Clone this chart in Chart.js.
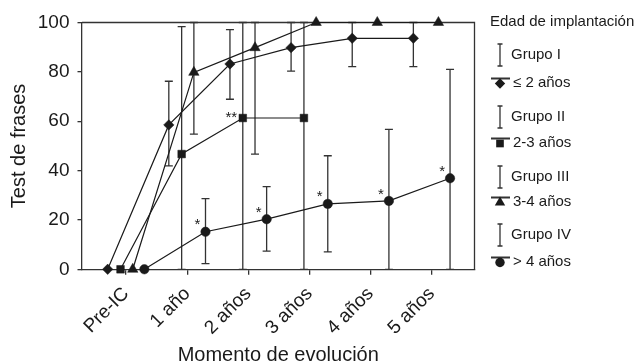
<!DOCTYPE html>
<html><head><meta charset="utf-8">
<script src="https://cdn.jsdelivr.net/npm/chart.js@4/dist/chart.umd.min.js"></script>
<style>html,body{margin:0;padding:0;background:#fff}#wrap{width:638px;height:363px;position:relative}</style>
</head><body><div id="wrap"><canvas id="c" width="638" height="363"></canvas></div>
<script>
const categories = ['Pre-IC', '1 año', '2 años', '3 años', '4 años', '5 años'];
const yTicks = [0, 20, 40, 60, 80, 100];
const groupNames = ['Grupo I', 'Grupo II', 'Grupo III', 'Grupo IV'];
const ageLabels = ['≤ 2 años', '2-3 años', '3-4 años', '> 4 años'];
const legendTitle = 'Edad de implantación';
const xTitle = 'Momento de evolución';
const yTitle = 'Test de frases';

const grupoI = [0, 58.5, 83.2, 89.8, 93.6, 93.6];
const grupoI_low = [null, 41.9, 68.9, 80.3, 82.1, 82.1];
const grupoI_high = [null, 76.2, 97.1, 100, 100, 100];

const grupoII = [0, 46.7, 61.3, 61.3];
const grupoII_low = [null, 0, 0, 0];
const grupoII_high = [null, 98.3, 100, 100];

const grupoIII = [0, 79.8, 89.8, 100, 100, 100];
const grupoIII_low = [null, 54.8, 46.7, null, null, null];
const grupoIII_high = [null, 100, 100, null, null, null];

const grupoIV = [0, 15.2, 20.3, 26.5, 27.7, 36.9];
const grupoIV_low = [null, 2.3, 7.4, 7.1, 0, 0];
const grupoIV_high = [null, 28.6, 33.5, 46, 56.7, 81];

const grupoII_marks = ['', '', '**', ''];
const grupoIV_marks = ['', '*', '*', '*', '*', '*'];

const FONT = '"Liberation Sans", Arial, Helvetica, sans-serif';
const INK = '#1a1a1a';
const LINE = '#333';

const series = [
  {values: grupoI, low: grupoI_low, high: grupoI_high, marks: null, offset: -0.3, style: 'rectRot', r: 5.2, markDx: 0, markDy: 0},
  {values: grupoII, low: grupoII_low, high: grupoII_high, marks: grupoII_marks, offset: -0.09, style: 'rect', r: 5.4, markDx: -11.5, markDy: 3.6},
  {values: grupoIII, low: grupoIII_low, high: grupoIII_high, marks: null, offset: 0.11, style: 'triangle', r: 6, markDx: 0, markDy: 0},
  {values: grupoIV, low: grupoIV_low, high: grupoIV_high, marks: grupoIV_marks, offset: 0.3, style: 'circle', r: 4.7, markDx: -8, markDy: -2.4}
];

function drawMarker(ctx, style, r, x, y) {
  ctx.beginPath();
  if (style === 'circle') {
    ctx.arc(x, y, r, 0, Math.PI * 2);
  } else if (style === 'rect') {
    const s = r * Math.SQRT1_2;
    ctx.rect(x - s, y - s, 2 * s, 2 * s);
  } else if (style === 'rectRot') {
    ctx.moveTo(x, y - r); ctx.lineTo(x + r, y); ctx.lineTo(x, y + r); ctx.lineTo(x - r, y); ctx.closePath();
  } else if (style === 'triangle') {
    const h = r * Math.sqrt(3) / 2;
    ctx.moveTo(x, y - r); ctx.lineTo(x + h, y + r / 2); ctx.lineTo(x - h, y + r / 2); ctx.closePath();
  }
  ctx.fill();
}

const errPlugin = {
  id: 'errbars',
  beforeDatasetsDraw(chart) {
    const {ctx, chartArea: a, scales: {x, y}} = chart;
    ctx.save();
    ctx.strokeStyle = LINE; ctx.lineWidth = 1.3;
    ctx.beginPath();
    ctx.moveTo(a.left, a.top); ctx.lineTo(a.right, a.top); ctx.lineTo(a.right, a.bottom);
    ctx.stroke();
    series.forEach(s => {
      s.low.forEach((lo, i) => {
        const hi = s.high[i];
        if (lo == null || hi == null) return;
        const px = x.getPixelForValue(i + s.offset);
        const pa = y.getPixelForValue(lo), pb = y.getPixelForValue(hi);
        ctx.beginPath();
        ctx.moveTo(px, pa); ctx.lineTo(px, pb);
        ctx.moveTo(px - 4, pa); ctx.lineTo(px + 4, pa);
        ctx.moveTo(px - 4, pb); ctx.lineTo(px + 4, pb);
        ctx.stroke();
      });
    });
    ctx.restore();
  },
  afterDraw(chart) {
    const {ctx, scales: {x, y}} = chart;
    ctx.save();
    ctx.fillStyle = INK;
    ctx.font = '15px ' + FONT;
    ctx.textAlign = 'center';
    ctx.textBaseline = 'alphabetic';
    series.forEach(s => {
      if (!s.marks) return;
      s.marks.forEach((m, i) => {
        if (!m) return;
        const px = x.getPixelForValue(i + s.offset);
        const py = y.getPixelForValue(s.values[i]);
        ctx.fillText(m, px + s.markDx, py + s.markDy);
      });
    });
    ctx.textAlign = 'left';
    ctx.textBaseline = 'middle';
    ctx.font = '15px ' + FONT;
    ctx.fillText(legendTitle, 490, 22);
    const gY = [55, 117, 177, 235];
    const aY = [83, 143, 202, 262];
    ctx.strokeStyle = LINE; ctx.lineWidth = 1.3;
    series.forEach((s, k) => {
      const gy = gY[k], ay = aY[k];
      ctx.beginPath();
      ctx.moveTo(500, gy - 11); ctx.lineTo(500, gy + 11);
      ctx.moveTo(497.5, gy - 11); ctx.lineTo(502.5, gy - 11);
      ctx.moveTo(497.5, gy + 11); ctx.lineTo(502.5, gy + 11);
      ctx.stroke();
      ctx.fillText(groupNames[k], 511, gy);
      ctx.save();
      ctx.lineWidth = 2;
      ctx.beginPath(); ctx.moveTo(491, ay - 4.5); ctx.lineTo(510, ay - 4.5); ctx.stroke();
      ctx.restore();
      drawMarker(ctx, s.style, s.r, 500, ay + 0.5);
      ctx.fillText(ageLabels[k], 513, ay);
    });
    ctx.restore();
  }
};

const datasets = series.map((s, k) => ({
  label: groupNames[k] + ' ' + ageLabels[k],
  data: s.values.map((v, i) => ({x: i + s.offset, y: v})),
  showLine: true,
  borderColor: INK,
  backgroundColor: INK,
  borderWidth: 1.2,
  pointStyle: s.style,
  pointRadius: s.r,
  pointBorderWidth: 0.5,
  pointHoverRadius: s.r,
  clip: false,
  tension: 0
}));

new Chart(document.getElementById('c'), {
  type: 'scatter',
  data: {datasets},
  plugins: [errPlugin],
  options: {
    responsive: false,
    animation: false,
    devicePixelRatio: 1,
    layout: {padding: {left: 0, top: 22.5, right: 163.5, bottom: 0}},
    plugins: {legend: {display: false}, tooltip: {enabled: false}},
    scales: {
      x: {
        type: 'linear', min: -0.72, max: 5.70,
        afterBuildTicks: sc => { sc.ticks = categories.map((_, i) => ({value: i})); },
        afterFit: sc => { sc.height = 93.7; },
        ticks: {callback: v => categories[v], minRotation: 45, maxRotation: 45, autoSkip: false,
          font: {size: 19, family: FONT}, color: INK, padding: 8},
        grid: {drawOnChartArea: false, drawTicks: true, tickLength: 5.5, color: LINE, lineWidth: 1.3},
        border: {color: LINE, width: 1.3},
        title: {display: true, text: xTitle, font: {size: 20, family: FONT}, color: INK, padding: {top: 0, bottom: -4}}
      },
      y: {
        min: 0, max: 100,
        afterBuildTicks: sc => { sc.ticks = yTicks.map(v => ({value: v})); },
        afterFit: sc => { sc.width = 82; },
        ticks: {font: {size: 19, family: FONT}, color: INK, padding: 8},
        grid: {drawOnChartArea: false, drawTicks: true, tickLength: 4.5, color: LINE, lineWidth: 1.3},
        border: {color: LINE, width: 1.3},
        title: {display: true, text: yTitle, font: {size: 20, family: FONT}, color: INK, padding: {top: 7, bottom: 0}}
      }
    }
  }
});
</script></body></html>
